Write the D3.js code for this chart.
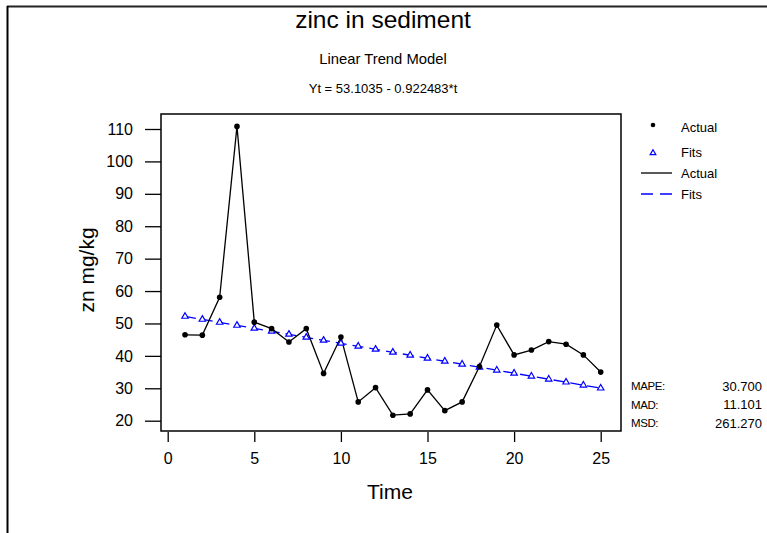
<!DOCTYPE html>
<html>
<head>
<meta charset="utf-8">
<script src="https://cdn.jsdelivr.net/npm/d3@7/dist/d3.min.js"></script>
<style>
  html, body { margin: 0; padding: 0; background: #fff; }
  svg { display: block; font-family: "Liberation Sans", Arial, sans-serif; }
</style>
</head>
<body>
<svg id="chart" width="767" height="533"></svg>
<script>
// ---- data ----
const timeIndex = [1,2,3,4,5,6,7,8,9,10,11,12,13,14,15,16,17,18,19,20,21,22,23,24,25];
const actualValues = [46.5,46.4,58.1,110.8,50.4,48.4,44.3,48.4,34.6,45.8,25.8,30.2,21.7,22.1,29.5,23.1,25.8,36.7,49.5,40.3,41.8,44.4,43.6,40.3,35.0];
const fitValues = [52.18,51.26,50.34,49.41,48.49,47.57,46.65,45.72,44.80,43.88,42.96,42.03,41.11,40.19,39.27,38.34,37.42,36.50,35.58,34.65,33.73,32.81,31.89,30.96,30.04];
const xTickValues = [0,5,10,15,20,25];
const yTickValues = [20,30,40,50,60,70,80,90,100,110];
const titleText = "zinc in sediment";
const subtitleText = "Linear Trend Model";
const equationText = "Yt = 53.1035 - 0.922483*t";
const xLabel = "Time";
const yLabel = "zn mg/kg";
const legendLabels = ["Actual","Fits","Actual","Fits"];
const statNames = ["MAPE:","MAD:","MSD:"];
const statValues = ["30.700","11.101","261.270"];

// ---- layout ----
const svg = d3.select("#chart");
const frame = {left: 161, top: 114, right: 621, bottom: 431};
const x = d3.scaleLinear().domain([0, 25]).range([167.7, 600.7]);
const y = d3.scaleLinear().domain([20, 110]).range([420.7, 129]);

// outer border (partial, as in reference)
svg.append("line").attr("x1", 7).attr("x2", 767).attr("y1", 6.5).attr("y2", 6.5)
  .attr("stroke", "#222").attr("stroke-width", 2);
svg.append("line").attr("x1", 7.5).attr("x2", 7.5).attr("y1", 6).attr("y2", 533)
  .attr("stroke", "#000").attr("stroke-width", 2);

// titles
svg.append("text").attr("x", 383).attr("y", 28).attr("text-anchor", "middle")
  .attr("font-size", 24.5).text(titleText);
svg.append("text").attr("x", 383).attr("y", 64).attr("text-anchor", "middle")
  .attr("font-size", 14.8).text(subtitleText);
svg.append("text").attr("x", 383).attr("y", 93).attr("text-anchor", "middle")
  .attr("font-size", 13).text(equationText);

// plot frame
svg.append("rect").attr("x", frame.left).attr("y", frame.top)
  .attr("width", frame.right - frame.left).attr("height", frame.bottom - frame.top)
  .attr("fill", "none").attr("stroke", "#000").attr("stroke-width", 1.5);

// axes
const yAxis = svg.append("g").attr("transform", `translate(${frame.left},0)`)
  .call(d3.axisLeft(y).tickValues(yTickValues).tickSize(16).tickPadding(12));
const xAxis = svg.append("g").attr("transform", `translate(0,${frame.bottom + 1})`)
  .call(d3.axisBottom(x).tickValues(xTickValues).tickSize(10).tickPadding(11));
[yAxis, xAxis].forEach(g => {
  g.select(".domain").remove();
  g.selectAll(".tick line").attr("stroke", "#000").attr("stroke-width", 1.3);
  g.selectAll(".tick text").attr("font-size", 16).attr("fill", "#000")
    .attr("font-family", "Liberation Sans, Arial, sans-serif");
});

// axis labels
svg.append("text").attr("x", 390).attr("y", 499).attr("text-anchor", "middle")
  .attr("font-size", 21).text(xLabel);
svg.append("text").attr("transform", "translate(94,270) rotate(-90)")
  .attr("text-anchor", "middle").attr("font-size", 21).text(yLabel);

// series
const pts = timeIndex.map((t, i) => ({t, a: actualValues[i], f: fitValues[i]}));
const lineA = d3.line().x(d => x(d.t)).y(d => y(d.a));
const lineF = d3.line().x(d => x(d.t)).y(d => y(d.f));

svg.append("path").datum(pts).attr("d", lineF).attr("fill", "none")
  .attr("stroke", "#0000ff").attr("stroke-width", 1.3).attr("stroke-dasharray", "11,6");
svg.append("path").datum(pts).attr("d", lineA).attr("fill", "none")
  .attr("stroke", "#000").attr("stroke-width", 1.3);

const tri = d3.symbol().type(d3.symbolTriangle).size(18);
svg.append("g").selectAll("path").data(pts).join("path")
  .attr("d", tri).attr("transform", d => `translate(${x(d.t)},${y(d.f)})`)
  .attr("fill", "#fff").attr("stroke", "#0000ff").attr("stroke-width", 1.2);
svg.append("g").selectAll("circle").data(pts).join("circle")
  .attr("cx", d => x(d.t)).attr("cy", d => y(d.a)).attr("r", 2.8).attr("fill", "#000");

// legend
const lg = svg.append("g").attr("font-size", 13);
lg.append("circle").attr("cx", 653).attr("cy", 125).attr("r", 2.3).attr("fill", "#000");
lg.append("path").attr("d", d3.symbol().type(d3.symbolTriangle).size(14))
  .attr("transform", "translate(653,153)").attr("fill", "#fff")
  .attr("stroke", "#0000ff").attr("stroke-width", 1.2);
lg.append("line").attr("x1", 641).attr("x2", 672).attr("y1", 173).attr("y2", 173)
  .attr("stroke", "#000").attr("stroke-width", 1.3);
lg.append("line").attr("x1", 641).attr("x2", 672).attr("y1", 194).attr("y2", 194)
  .attr("stroke", "#0000ff").attr("stroke-width", 1.3).attr("stroke-dasharray", "12,7");
[127, 152, 173, 194].forEach((yy, i) => {
  lg.append("text").attr("x", 681).attr("y", yy).attr("dy", "0.35em").text(legendLabels[i]);
});

// statistics
const st = svg.append("g");
statNames.forEach((n, i) => {
  const yy = 386 + i * 18.5;
  st.append("text").attr("x", 631).attr("y", yy).attr("dy", "0.35em")
    .attr("font-size", 11.5).attr("letter-spacing", -0.4).text(n);
  st.append("text").attr("x", 762).attr("y", yy).attr("dy", "0.35em")
    .attr("font-size", 13).attr("text-anchor", "end").text(statValues[i]);
});
</script>
</body>
</html>
